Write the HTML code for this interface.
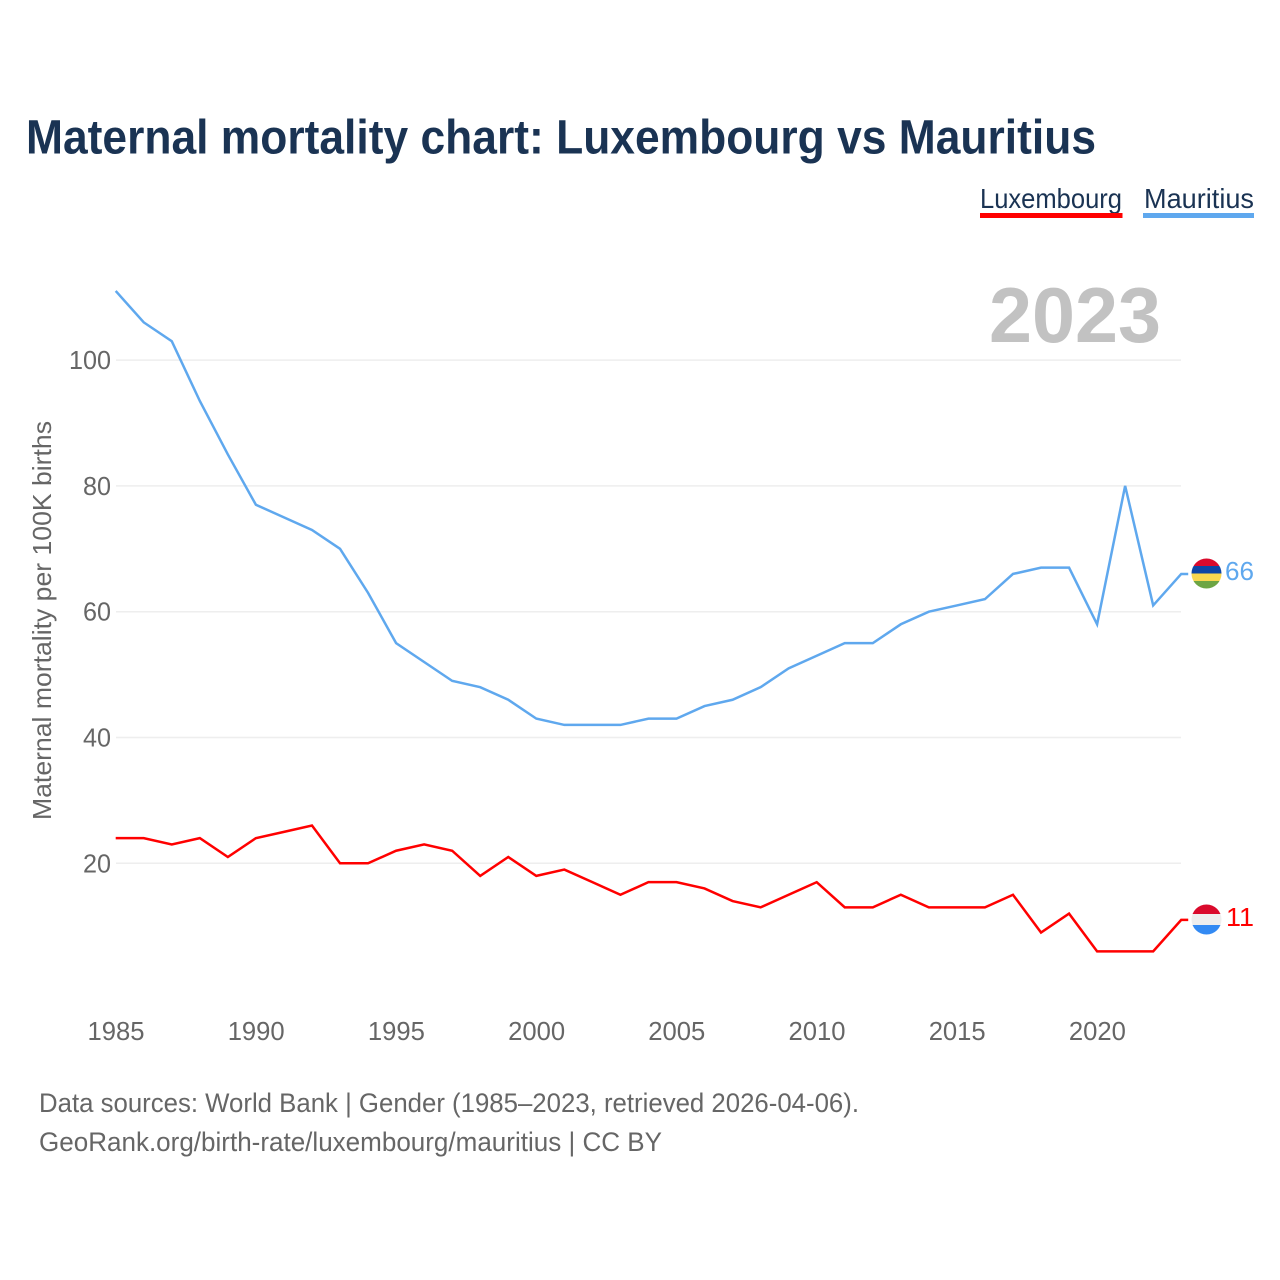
<!DOCTYPE html>
<html lang="en">
<head>
<meta charset="utf-8">
<title>Maternal mortality chart: Luxembourg vs Mauritius</title>
<style>
html,body{margin:0;padding:0;background:#fff;width:1280px;height:1280px;overflow:hidden}
svg{display:block}
text{font-family:"Liberation Sans",sans-serif}
</style>
</head>
<body>
<svg id="chart" xmlns="http://www.w3.org/2000/svg" width="1280" height="1280" viewBox="0 0 1280 1280">
  <rect x="0" y="0" width="1280" height="1280" fill="#ffffff"/>
  <text x="26" y="153.5" font-size="48" font-weight="700" fill="#1a3353" textLength="1070" lengthAdjust="spacingAndGlyphs">Maternal mortality chart: Luxembourg vs Mauritius</text>

  <g>
    <text x="980" y="208" font-size="28" fill="#1a3353" textLength="142" lengthAdjust="spacingAndGlyphs">Luxembourg</text>
    <rect x="980" y="213" width="142.5" height="5" fill="#ff0000"/>
  </g>
  <g>
    <text x="1144" y="208" font-size="28" fill="#1a3353" textLength="110" lengthAdjust="spacingAndGlyphs">Mauritius</text>
    <rect x="1143" y="213" width="111" height="5" fill="#5fa8ee"/>
  </g>

  <g id="grid"></g>
  <g id="yticks"></g>
  <g id="xticks"></g>

  <text transform="translate(51,820) rotate(-90)" x="0" y="0" font-size="26" fill="#666666" textLength="399" lengthAdjust="spacingAndGlyphs">Maternal mortality per 100K births</text>
  <text id="year-label" x="989" y="342" font-size="78" font-weight="700" fill="#c2c2c2" textLength="172" lengthAdjust="spacingAndGlyphs">2023</text>

  <g id="series"></g>

  <defs>
    <clipPath id="flag-clip-mu"><circle cx="1206.5" cy="573.5" r="15"/></clipPath>
    <clipPath id="flag-clip-lu"><circle cx="1206.5" cy="919.5" r="15"/></clipPath>
  </defs>
  <g clip-path="url(#flag-clip-mu)">
    <rect x="1191" y="558" width="31" height="8" fill="#da0a2c"/>
    <rect x="1191" y="566" width="31" height="7.5" fill="#0d45a5"/>
    <rect x="1191" y="573.5" width="31" height="7.5" fill="#f9d750"/>
    <rect x="1191" y="581" width="31" height="8" fill="#6da544"/>
  </g>
  <g clip-path="url(#flag-clip-lu)">
    <rect x="1191" y="904" width="31" height="10" fill="#da0a2c"/>
    <rect x="1191" y="914" width="31" height="11" fill="#eeeeee"/>
    <rect x="1191" y="925" width="31" height="10" fill="#338af3"/>
  </g>
  <text id="end-mu" x="1225" y="580" font-size="26" fill="#5fa8ee" textLength="29" lengthAdjust="spacingAndGlyphs"></text>
  <text id="end-lu" x="1226" y="926" font-size="26" fill="#ff0000" textLength="28" lengthAdjust="spacingAndGlyphs"></text>

  <text x="39" y="1112" font-size="27" fill="#666666" textLength="820" lengthAdjust="spacingAndGlyphs">Data sources: World Bank | Gender (1985–2023, retrieved 2026-04-06).</text>
  <text x="39" y="1151" font-size="27" fill="#666666" textLength="623" lengthAdjust="spacingAndGlyphs">GeoRank.org/birth-rate/luxembourg/mauritius | CC BY</text>
</svg>
<script>
const years = [1985,1986,1987,1988,1989,1990,1991,1992,1993,1994,1995,1996,1997,1998,1999,2000,2001,2002,2003,2004,2005,2006,2007,2008,2009,2010,2011,2012,2013,2014,2015,2016,2017,2018,2019,2020,2021,2022,2023];
const mauritius = [111,106,103,93.5,85,77,75,73,70,63,55,52,49,48,46,43,42,42,42,43,43,45,46,48,51,53,55,55,58,60,61,62,66,67,67,58,80,61,66];
const luxembourg = [24,24,23,24,21,24,25,26,20,20,22,23,22,18,21,18,19,17,15,17,17,16,14,13,15,17,13,13,15,13,13,13,15,9,12,6,6,6,11];
const yTickValues = [20,40,60,80,100];
const xTickValues = [1985,1990,1995,2000,2005,2010,2015,2020];

const NS = 'http://www.w3.org/2000/svg';
const xScale = function (year) { return 115.7 + (year - 1985) * 28.04; };
const yScale = function (value) { return 989.1 - value * 6.29; };
const PLOT_RIGHT = 1181;

const gridLayer = document.getElementById('grid');
const yTickLayer = document.getElementById('yticks');
const xTickLayer = document.getElementById('xticks');
const seriesLayer = document.getElementById('series');

yTickValues.forEach(function (value) {
  const line = document.createElementNS(NS, 'line');
  
  
  line.setAttribute('x1', 116);
  line.setAttribute('x2', PLOT_RIGHT);
  line.setAttribute('y1', yScale(value));
  line.setAttribute('y2', yScale(value));
  line.setAttribute('stroke', '#eeeeee');
  line.setAttribute('stroke-width', '1.5');
  gridLayer.appendChild(line);

  const label = document.createElementNS(NS, 'text');
  
  
  label.setAttribute('x', 111);
  label.setAttribute('y', yScale(value) + 9);
  label.setAttribute('text-anchor', 'end');
  label.setAttribute('font-size', '26');
  label.setAttribute('fill', '#666666');
  label.setAttribute('textLength', String(value).length * 14);
  label.setAttribute('lengthAdjust', 'spacingAndGlyphs');
  label.textContent = value;
  yTickLayer.appendChild(label);
});

xTickValues.forEach(function (year) {
  const label = document.createElementNS(NS, 'text');
  
  
  label.setAttribute('x', xScale(year) + 0.3);
  label.setAttribute('y', 1040);
  label.setAttribute('text-anchor', 'middle');
  label.setAttribute('font-size', '26');
  label.setAttribute('fill', '#666666');
  label.setAttribute('textLength', 57);
  label.setAttribute('lengthAdjust', 'spacingAndGlyphs');
  label.textContent = year;
  xTickLayer.appendChild(label);
});

function buildPoints(values) {
  const pts = values.map(function (v, i) { return xScale(years[i]).toFixed(2) + ',' + yScale(v).toFixed(2); });
  const last = values[values.length - 1];
  pts.push((xScale(years[years.length - 1]) + 7).toFixed(2) + ',' + yScale(last).toFixed(2));
  return pts.join(' ');
}

const mauritiusLine = document.createElementNS(NS, 'polyline');


mauritiusLine.setAttribute('points', buildPoints(mauritius));
mauritiusLine.setAttribute('fill', 'none');
mauritiusLine.setAttribute('stroke', '#5fa8ee');
mauritiusLine.setAttribute('stroke-width', '2.5');
seriesLayer.appendChild(mauritiusLine);

const luxembourgLine = document.createElementNS(NS, 'polyline');


luxembourgLine.setAttribute('points', buildPoints(luxembourg));
luxembourgLine.setAttribute('fill', 'none');
luxembourgLine.setAttribute('stroke', '#ff0000');
luxembourgLine.setAttribute('stroke-width', '2.5');
seriesLayer.appendChild(luxembourgLine);

document.getElementById('end-mu').textContent = mauritius[mauritius.length - 1];
document.getElementById('end-lu').textContent = luxembourg[luxembourg.length - 1];
</script>
</body>
</html>
